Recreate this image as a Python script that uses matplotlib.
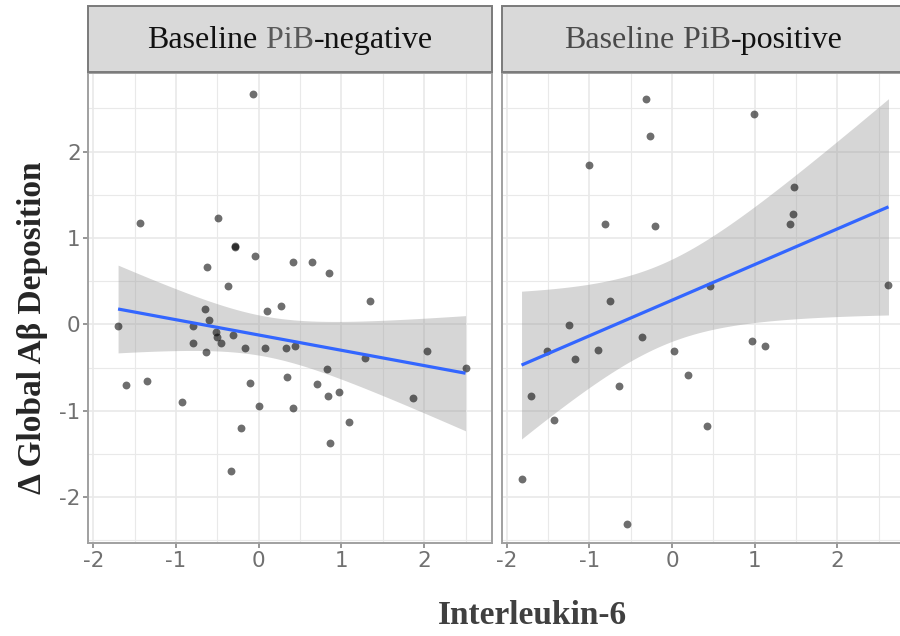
import numpy as np
import matplotlib
matplotlib.use("Agg")
import matplotlib.pyplot as plt
from matplotlib.patches import Rectangle
from matplotlib.offsetbox import TextArea, HPacker, AnchoredOffsetbox

plt.rcParams['axes.unicode_minus'] = False

# ---------------- data ----------------
neg_x = [-0.07, -1.43, -0.49, -0.29, -0.29, -0.05, -0.62, 0.41, 0.64, 0.85,
         -0.37, 1.35, 0.27, 0.10, -0.65, -0.60, -1.70, -0.79, -0.52, -0.51,
         -0.31, -0.79, -0.46, -0.64, -0.17, 0.08, 0.33, 0.44, 2.04, 1.28,
         2.50, 0.82, -1.60, -1.35, -0.11, 0.34, 0.71, 0.84, 0.97, 1.87,
         -0.93, 0.00, 0.42, 1.09, -0.22, 0.86, -0.33]
neg_y = [2.67, 1.17, 1.23, 0.91, 0.90, 0.79, 0.66, 0.72, 0.72, 0.59,
         0.44, 0.27, 0.21, 0.15, 0.18, 0.05, -0.015, -0.02, -0.09, -0.14,
         -0.12, -0.22, -0.22, -0.32, -0.27, -0.27, -0.27, -0.25, -0.31, -0.39,
         -0.51, -0.52, -0.70, -0.65, -0.68, -0.61, -0.69, -0.83, -0.78, -0.85,
         -0.90, -0.94, -0.97, -1.13, -1.20, -1.37, -1.70]

pos_x = [-0.31, 0.99, -0.27, -1.00, 1.48, 1.47, 1.43, -0.81, -0.21, 2.62,
         0.46, -0.75, -1.24, -0.36, -1.51, -0.90, 0.02, -1.17, 0.97, 1.13,
         0.19, -0.64, -1.71, -1.43, 0.43, -1.82, -0.54]
pos_y = [2.61, 2.43, 2.18, 1.84, 1.59, 1.28, 1.16, 1.16, 1.14, 0.46,
         0.44, 0.275, -0.01, -0.15, -0.31, -0.30, -0.31, -0.40, -0.19, -0.25,
         -0.59, -0.71, -0.83, -1.11, -1.18, -1.79, -2.31]

x_ticks = [-2, -1, 0, 1, 2]
y_ticks = [-2, -1, 0, 1, 2]
x_tick_labels = ["-2", "-1", "0", "1", "2"]
y_tick_labels = ["-2", "-1", "0", "1", "2"]

# ---------------- helpers ----------------
def t_quantile(df):
    # Cornish-Fisher expansion of Student t 0.975 quantile
    z = 1.959963984540054
    g1 = (z**3 + z) / 4.0
    g2 = (5*z**5 + 16*z**3 + 3*z) / 96.0
    g3 = (3*z**7 + 19*z**5 + 17*z**3 - 15*z) / 384.0
    return z + g1/df + g2/df**2 + g3/df**3

def lm_fit(x, y, n=80):
    x = np.asarray(x, float); y = np.asarray(y, float)
    N = len(x)
    xm = x.mean()
    sxx = ((x - xm)**2).sum()
    b = ((x - xm)*(y - y.mean())).sum() / sxx
    a = y.mean() - b*xm
    res = y - (a + b*x)
    s = np.sqrt((res**2).sum() / (N - 2))
    xs = np.linspace(x.min(), x.max(), n)
    fit = a + b*xs
    se = s*np.sqrt(1.0/N + (xs - xm)**2/sxx)
    t = t_quantile(N - 2)
    return xs, fit, fit - t*se, fit + t*se

# ---------------- figure ----------------
W, H = 900, 636
fig = plt.figure(figsize=(W/100, H/100), dpi=100)

def fig_rect(x0, y0, x1, y1):
    return [x0/W, 1 - y1/H, (x1 - x0)/W, (y1 - y0)/H]

panel_top, panel_bot = 73, 543
axL = fig.add_axes(fig_rect(88.3, panel_top, 492, panel_bot))
axR = fig.add_axes(fig_rect(501.7, panel_top, 905, panel_bot))

xlim = (-2.06, 2.82)
ylim = (-2.53, 2.91)

for ax, xs_, ys_ in [(axL, neg_x, neg_y), (axR, pos_x, pos_y)]:
    ax.set_facecolor('white')
    ax.set_xlim(*xlim); ax.set_ylim(*ylim)
    # grid
    for v in np.arange(-2.5, 3.0, 0.5):
        lw = 1.2 if float(v).is_integer() else 0.8
        ax.axvline(v, color='#e9e9e9', lw=lw, zorder=0)
        ax.axhline(v, color='#e9e9e9', lw=lw, zorder=0)
    xs, fit, lo, hi = lm_fit(xs_, ys_)
    ax.fill_between(xs, lo, hi, color='#999999', alpha=0.4, lw=0, zorder=1)
    ax.scatter(xs_, ys_, s=32, color='black', alpha=0.57, lw=0, zorder=2)
    ax.plot(xs, fit, color='#3366FF', lw=2.3, zorder=3, solid_capstyle='butt')
    for sp in ax.spines.values():
        sp.set_color('#a0a0a0'); sp.set_linewidth(1.4)
    ax.set_xticks(x_ticks)
    ax.set_xticklabels(x_tick_labels)
    ax.tick_params(axis='both', colors='#7a7a7a', labelcolor='#707070',
                   length=3.5, width=1.1, labelsize=15.5, pad=2)

axL.set_yticks(y_ticks)
axL.set_yticklabels(y_tick_labels)
axR.set_yticks([])
axR.spines['right'].set_visible(False)

# ---------------- strips ----------------
strip_top, strip_bot = 6, 71.7
strips = [
    (88.3, 492, [("Baseline", '#111111'), (" PiB", '#5a5a5a'), ("-negative", '#111111')]),
    (501.7, 905, [("Baseline", '#4a4a4a'), (" PiB", '#4a4a4a'), ("-positive", '#111111')]),
]
for x0, x1, pieces in strips:
    r = fig_rect(x0, strip_top, x1, strip_bot)
    fig.patches.append(Rectangle((r[0], r[1]), r[2], r[3], transform=fig.transFigure,
                                 facecolor='#d9d9d9', edgecolor='#7a7a7a', lw=1.4,
                                 figure=fig))
    children = [TextArea(t, textprops=dict(color=c, fontsize=23,
                                           family='Liberation Serif'))
                for t, c in pieces]
    pack = HPacker(children=children, sep=0, pad=0, align='baseline')
    cx = (x0 + x1) / 2.0
    anch = AnchoredOffsetbox(loc='center', child=pack, frameon=False, pad=0,
                             borderpad=0,
                             bbox_to_anchor=(cx/W, 1 - ((strip_top + strip_bot)/2 + 2)/H),
                             bbox_transform=fig.transFigure)
    fig.add_artist(anch)

# ---------------- axis titles ----------------
fig.text(33/W, 1 - 328/H, "Δ Global Aβ Deposition", rotation=90, ha='center',
         va='center', fontsize=24, fontweight='bold', family='Liberation Serif',
         color='#262626')
fig.text(532/W, 1 - 616/H, "Interleukin-6", ha='center', va='center',
         fontsize=24, fontweight='bold', family='Liberation Serif', color='#404040')

fig.savefig("out.png", dpi=100)
